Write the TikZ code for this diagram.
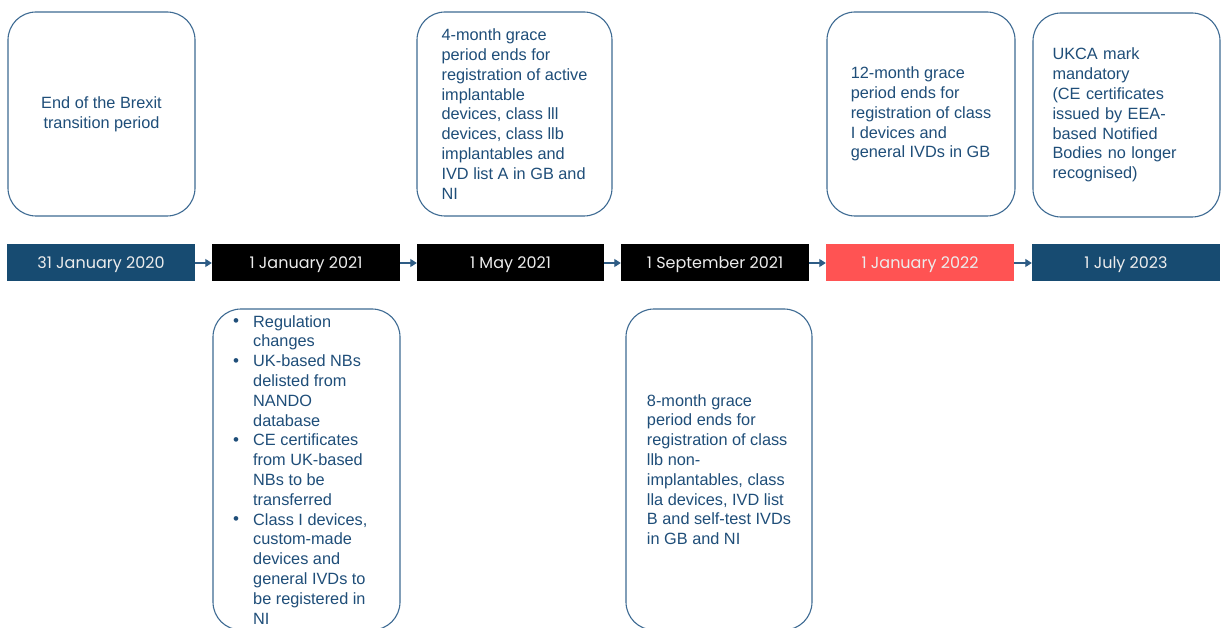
\documentclass[tikz,border=0pt]{standalone}
\usepackage{fontspec}
\setmainfont{Liberation Sans}
\newfontfamily\datefont{Poppins}
\usetikzlibrary{arrows.meta}
\definecolor{barblue}{HTML}{174B71}
\definecolor{barred}{HTML}{FF5353}
\definecolor{txtblue}{HTML}{1F4E79}
\definecolor{edgec}{HTML}{3E6B93}
\definecolor{arrowc}{HTML}{2E5C85}
\definecolor{datetxt}{HTML}{ECECEC}
\newcommand{\bul}{\makebox[22pt][l]{\hspace*{2pt}\raisebox{0.5pt}{\fontsize{17}{17}\selectfont\textbullet}}}
\begin{document}
\begin{tikzpicture}[x=1pt,y=-1pt,
  datebar/.style={rectangle, minimum width=188pt, minimum height=37pt, inner sep=0pt,
    text height=11.5pt, text depth=0pt,
    text=datetxt, font=\datefont\fontsize{16}{18}\selectfont},
  infobox/.style={draw=edgec, line width=1.1pt, rounded corners=28pt, fill=white,
    inner sep=0pt, align=left, text=txtblue, font=\fontsize{16.3}{19.8}\selectfont},
  infotext/.style={inner sep=0pt, align=left, text=txtblue, font=\fontsize{16.3}{19.8}\selectfont},
  link/.style={draw=arrowc, line width=1.3pt, -{Triangle[length=6.5pt,width=8pt]}}
]
\useasboundingbox (0,0) rectangle (1223,628);
\clip (0,0) rectangle (1223,628);
\fill[white] (0,0) rectangle (1223,628);

% timeline bars
\node[datebar, fill=barblue] (d1) at (101,263) {31 January 2020};
\node[datebar, fill=black]   (d2) at (306,263) {1 January 2021};
\node[datebar, fill=black, minimum width=187pt] (d3) at (510.5,263) {1 May 2021};
\node[datebar, fill=black]   (d4) at (715,263) {1 September 2021};
\node[datebar, fill=barred]  (d5) at (920,263) {1 January 2022};
\node[datebar, fill=barblue] (d6) at (1126,263) {1 July 2023};

\draw[link] (d1) -- (d2);
\draw[link] (d2) -- (d3);
\draw[link] (d3) -- (d4);
\draw[link] (d4) -- (d5);
\draw[link] (d5) -- (d6);

% top boxes
\node[infobox, align=center, minimum width=187pt, minimum height=204pt] (bA) at (101.5,114)
  {End of the Brexit\\transition period};
\node[infobox, minimum width=195pt, minimum height=204pt] (bB) at (514.5,114)
  {4-month grace\\period ends for\\registration of active\\implantable\\devices, class lll\\devices, class llb\\implantables and\\IVD list A in GB and\\NI};
\node[infobox, minimum width=188pt, minimum height=204pt] (bC) at (921,114)
  {12-month grace\\period ends for\\registration of class\\I devices and\\general IVDs in GB};
\node[infobox, text width=148pt, minimum width=187pt, minimum height=204pt] (bD) at (1126.5,115)
  {UKCA mark\\mandatory\\(CE certificates\\issued by EEA-\\based Notified\\Bodies no longer\\recognised)};

% bottom boxes
\node[infobox, minimum width=187pt, minimum height=321pt] (bE) at (306.5,469.5) {};
\node[infotext, anchor=north west] (tE) at (231,315)
  {\bul Regulation\\
   \hspace*{22pt}changes\\
   \bul UK-based NBs\\
   \hspace*{22pt}delisted from\\
   \hspace*{22pt}NANDO\\
   \hspace*{22pt}database\\
   \bul CE certificates\\
   \hspace*{22pt}from UK-based\\
   \hspace*{22pt}NBs to be\\
   \hspace*{22pt}transferred\\
   \bul Class I devices,\\
   \hspace*{22pt}custom-made\\
   \hspace*{22pt}devices and\\
   \hspace*{22pt}general IVDs to\\
   \hspace*{22pt}be registered in\\
   \hspace*{22pt}NI};
\node[infobox, minimum width=186pt, minimum height=321pt] (bF) at (719,469.5)
  {8-month grace\\period ends for\\registration of class\\llb non-\\implantables, class\\lla devices, IVD list\\B and self-test IVDs\\in GB and NI};
\end{tikzpicture}
\end{document}
